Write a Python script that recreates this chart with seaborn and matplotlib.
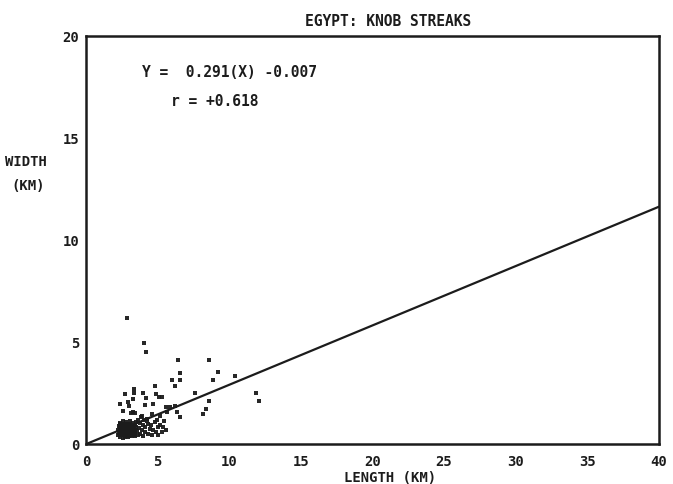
import matplotlib
matplotlib.use("Agg")
import matplotlib.pyplot as plt
import seaborn as sns
import pandas as pd

# ---- data ----
title = "EGYPT: KNOB STREAKS"
x_label = "LENGTH (KM)"
y_label = ["WIDTH", "(KM)"]
x_ticks = [0, 5, 10, 15, 20, 25, 30, 35, 40]
y_ticks = [0, 5, 10, 15, 20]
slope = 0.291
intercept = -0.007
r_value = 0.618
eq_text = "Y =  0.291(X) -0.007"
r_text = "r = +0.618"

outer_length = [2.84, 4.05, 4.21, 6.40, 8.60, 6.58, 9.23, 10.40, 6.02, 6.58, 8.84, 4.81, 6.21,
                3.37, 3.37, 2.72, 3.98, 4.88, 5.10, 4.16, 7.60, 11.84, 12.07, 2.37, 2.95, 3.00,
                4.12, 4.70, 5.60, 6.19, 8.58, 8.37, 8.19, 6.56, 6.33, 3.30, 2.60, 3.30, 3.15,
                3.45, 3.88, 4.23, 4.58, 5.16, 5.63, 5.86, 4.93, 5.47, 5.40, 5.56, 5.28]
outer_width = [6.18, 4.93, 4.51, 4.12, 4.12, 3.50, 3.53, 3.32, 3.12, 3.12, 3.12, 2.86, 2.86,
               2.70, 2.48, 2.45, 2.48, 2.46, 2.29, 2.25, 2.48, 2.50, 2.12, 1.96, 2.05, 1.85,
               1.91, 1.96, 1.80, 1.85, 2.12, 1.72, 1.47, 1.31, 1.55, 2.20, 1.63, 1.58, 1.50,
               1.52, 1.39, 1.23, 1.47, 1.39, 1.55, 1.80, 1.20, 1.11, 0.85, 0.69, 2.29]

core_length = [2.20, 2.25, 2.30, 2.30, 2.35, 2.40, 2.40, 2.45, 2.50, 2.50, 2.55, 2.55, 2.60,
               2.60, 2.65, 2.65, 2.70, 2.70, 2.75, 2.75, 2.80, 2.80, 2.85, 2.85, 2.90, 2.90,
               2.95, 2.95, 3.00, 3.00, 3.05, 3.05, 3.10, 3.10, 3.15, 3.15, 3.20, 3.20, 3.25,
               3.25, 3.30, 3.30, 3.35, 3.40, 3.40, 3.45, 3.50, 3.50, 3.55, 3.60,
               2.35, 2.45, 2.60, 2.70, 2.85, 3.00, 3.10, 3.20, 3.35, 2.50, 2.75, 2.95, 3.45,
               2.40, 3.05]
core_width = [0.45, 0.70, 0.90, 0.55, 1.05, 0.35, 0.80, 0.60, 0.95, 0.45, 0.75, 1.15, 0.50,
              0.85, 0.65, 1.00, 0.40, 0.75, 0.55, 0.90, 1.10, 0.65, 0.45, 0.80, 0.60, 1.00,
              0.35, 0.75, 0.55, 0.90, 1.15, 0.65, 0.45, 0.80, 0.95, 0.60, 0.40, 0.75, 1.05,
              0.55, 0.85, 0.65, 0.45, 0.95, 0.70, 0.55, 0.85, 1.10, 0.65, 0.45,
              0.60, 0.85, 0.30, 1.00, 0.70, 0.40, 1.00, 0.85, 0.75, 0.65, 0.35, 0.95, 0.40,
              1.00, 0.50]

edge_length = [3.70, 3.75, 3.80, 3.90, 3.95, 4.00, 4.10, 4.15, 4.30, 4.35, 4.45, 4.55, 4.60,
               4.70, 4.80, 4.90, 5.05, 5.20, 5.30, 3.65, 4.25, 3.85, 4.05, 5.00]
edge_width = [0.80, 1.05, 0.50, 0.70, 0.95, 0.40, 0.85, 0.60, 1.00, 0.50, 0.75, 0.95, 0.45,
              0.70, 1.10, 0.60, 0.85, 0.95, 0.60, 1.20, 1.15, 1.30, 1.20, 0.45]

df = pd.DataFrame({
    "length": outer_length + core_length + edge_length,
    "width": outer_width + core_width + edge_width,
})
line_df = pd.DataFrame({"length": [x_ticks[0], x_ticks[-1]]})
line_df["width"] = slope * line_df["length"] + intercept

# ---- drawing ----
sns.set_theme(style="white")
plt.rcParams["font.family"] = ["DejaVu Sans Mono", "DejaVu Sans"]
plt.rcParams["font.weight"] = "bold"
ink = "#1c1c1c"
fs = 10.5
tfs = 10

fig = plt.figure(figsize=(6.73, 4.85), dpi=100)
ax = fig.add_axes([86 / 673, 40 / 485, (659 - 86) / 673, (445 - 37) / 485])

sns.lineplot(data=line_df, x="length", y="width", ax=ax, color=ink, linewidth=1.6)
sns.scatterplot(data=df, x="length", y="width", ax=ax, color=ink, marker="s",
                s=9, linewidth=0, alpha=0.95)

ax.set_xlim(x_ticks[0], x_ticks[-1])
ax.set_ylim(y_ticks[0], y_ticks[-1])
ax.set_xticks(x_ticks)
ax.set_yticks(y_ticks)
ax.set_xticklabels([str(t) for t in x_ticks], fontsize=tfs, fontweight="bold", color=ink)
ax.set_yticklabels([str(t) for t in y_ticks], fontsize=tfs, fontweight="bold", color=ink)
ax.tick_params(axis="both", direction="in", length=5, width=1.3, color=ink)
ax.tick_params(axis="x", pad=7)
ax.tick_params(axis="y", pad=5)
ax.set_xlabel("")
ax.set_ylabel("")
for sp in ax.spines.values():
    sp.set_color(ink)
    sp.set_linewidth(1.8)

ax.text(3.9, 18.25, eq_text, fontsize=fs, fontweight="bold", color=ink, va="center")
ax.text(5.9, 16.85, r_text, fontsize=fs, fontweight="bold", color=ink, va="center")

fig.text(388 / 673, 1 - 22 / 485, title, fontsize=fs, fontweight="bold", color=ink,
         ha="center", va="center")
fig.text(390 / 673, 1 - 478 / 485, x_label, fontsize=tfs, fontweight="bold", color=ink,
         ha="center", va="center")
fig.text(26 / 673, 1 - 162 / 485, y_label[0], fontsize=tfs, fontweight="bold", color=ink,
         ha="center", va="center")
fig.text(28 / 673, 1 - 186 / 485, y_label[1], fontsize=tfs, fontweight="bold", color=ink,
         ha="center", va="center")

fig.savefig("out.png", dpi=100, facecolor="white")
